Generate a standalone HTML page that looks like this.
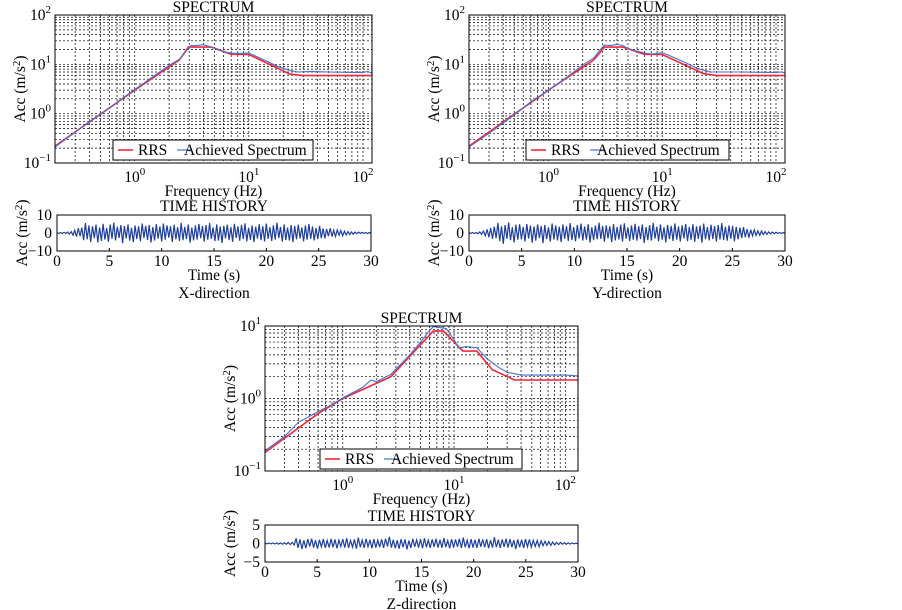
<!DOCTYPE html>
<html><head><meta charset="utf-8"><style>
body{margin:0;background:#fff}
svg{display:block;font-family:"Liberation Serif",serif}
</style></head><body>
<svg id="fig" width="902" height="610" viewBox="0 0 902 610"></svg>
<script>
// ---- data ----
const xRrsF=[0.2,1,2.46,2.95,4.7,7,10,23,30,120];
const xRrsA=[0.22,3.0,12.3,22.4,22.4,16,15.8,6.3,5.9,5.9];
const xAchF=[0.2,0.3,0.5,0.7,1,1.5,2,2.5,2.8,3.1,3.5,4,4.5,5,6,7,8,9,10,12,15,18,20,23,27,35,50,70,100,110,120];
const xAchA=[0.21,0.42,0.98,1.7,3.1,6,9.5,13,18,24,24,25,23,21,18,17,16.5,16.8,17,14,11,9,8.3,7.5,7,7.2,7,6.9,6.8,7.2,6.6];
const yRrsF=[0.2,1,2.5,3.1,4.5,7,10,23,30,120];
const yRrsA=[0.22,3.0,12.3,22.4,22.4,16,15.8,6.5,5.9,5.9];
const yAchF=[0.2,0.3,0.5,0.7,1,1.5,2,2.5,2.8,3.1,3.5,4,4.5,5,6,7,8,9,10,12,15,18,20,23,27,35,50,70,100,110,120];
const yAchA=[0.21,0.4,0.95,1.75,3.0,5.8,9.6,13.5,19,24.5,24,25.5,24,21,18.5,17,16.2,16.6,17.2,14.5,11.5,9.5,8.4,7.6,7,7,7,6.9,6.8,7,6.7];
const zRrsF=[0.2,0.6,1,2.7,6.5,8,12,16,22,35,130];
const zRrsA=[0.18,0.62,1.0,2.0,8.5,8.5,4.5,4.5,2.5,1.8,1.8];
const zAchF=[0.2,0.3,0.4,0.6,0.8,1,1.5,1.8,2,2.7,4,5,6,6.5,7.5,8.5,10,11,13,16,20,25,30,40,60,100,130];
const zAchA=[0.19,0.3,0.47,0.66,0.82,1.02,1.42,1.8,1.7,2.15,4,6,8.6,9.8,9.5,9.2,6.5,5,5.2,5,3.5,2.7,2.3,2.1,2.1,2.1,2.05];
const xAcc=[0.2,-0.3,0.3,-0.2,0.4,-0.3,0.5,-0.6,0.8,-1.2,1.5,-2,2.6,-1.8,3,-4,5.5,-3.5,4.2,-5,3.8,-2.9,4.6,-5.2,3.1,-4.4,5.1,-3.6,2.8,-4.9,4.7,-3.2,5.8,-4.1,3.5,-2.7,4.4,-5.6,3.9,-3,4.8,-4.3,2.9,-5.1,4.1,-3.4,3.7,-4.6,5.3,-2.8,4,-3.9,4.5,-5.3,3.3,-4.2,4.9,-3.1,3.6,-4.8,5.2,-3.7,4.3,-2.6,3.8,-5,4.6,-3.5,3.2,-4.4,5.6,-4,3.4,-3.3,4.7,-5.4,3,-4.1,4.2,-3.6,5,-2.9,3.9,-4.7,4.4,-3.8,5.5,-3.2,3.1,-4.5,4.8,-4.2,3.6,-5.5,4,-3,4.6,-3.9,3.3,-4.9,5.1,-2.7,3.7,-4.3,4.5,-3.4,5.4,-4.6,2.9,-3.8,4.1,-5,3.5,-3.1,4.9,-4,3.8,-4.7,5.2,-3.3,3.2,-4.4,4.3,-3.6,5.7,-2.8,3.4,-4.8,4.7,-3.9,3,-4.2,4.4,-5.1,3.9,-3.5,4.6,-3,3.1,-4.6,4.2,-3.7,5,-3.2,3.6,-4.1,2.8,-3.4,4,-2.9,2.5,-3,2.2,-1.8,2.6,-2,1.5,-1.9,1.7,-1.2,1.4,-1.6,1,-1.1,0.8,-0.9,0.6,-0.7,0.5,-0.4,0.5,-0.3,0.4,-0.2,0.3,-0.3,0.2,-0.2];
const yAcc=[0.2,-0.2,0.3,-0.3,0.3,-0.4,0.6,-0.8,1.1,-1.5,2,-2.4,2.8,-3.2,3.5,-2.9,5.6,-4.5,3.7,-6,4.4,-3.3,5.9,-4,3.2,-5.2,4.6,-3.8,4.9,-3.5,3.4,-4.7,5,-3.1,4.1,-5.4,3.6,-4.3,4.8,-2.9,3.9,-5.6,4.5,-3.4,3.1,-4.8,5.3,-3.6,4.2,-4.1,3.5,-5,4.7,-3.2,3.8,-4.4,5.5,-3.9,3.3,-4.6,4.4,-3.1,5.2,-4.2,3.6,-3.7,4.9,-5.3,3.2,-4,4.1,-3.5,5.7,-3.3,3.9,-4.9,4.3,-3,3.7,-5.1,5,-4.1,3.4,-3.6,4.6,-4.7,5.4,-3.2,3.1,-4.5,4.2,-3.8,5.1,-4.3,3.8,-3.4,4.7,-5.5,3.3,-3.9,4.4,-4.2,5.6,-3.1,3.5,-4.6,4.8,-3.7,3.2,-5.2,4.5,-3.3,4,-4.4,5.3,-3.6,3.6,-4.8,4.3,-3,5,-4.5,3.4,-3.8,4.9,-4.9,3.7,-3.2,4.1,-5.4,5.2,-3.5,3.3,-4.1,4.6,-3.4,3.8,-4.7,4.4,-3.6,5.5,-3.9,3.5,-4.3,4.2,-3.2,3.9,-4.6,3.4,-3.5,3,-2.8,3.3,-2.4,2.2,-2.6,1.9,-1.6,1.8,-1.4,1.2,-1.3,1.1,-0.9,0.8,-0.7,0.6,-0.5,0.5,-0.4,0.4,-0.3,0.3,-0.3,0.2,-0.2];
const zAcc=[0.1,-0.1,0.1,-0.1,0.15,-0.1,0.15,-0.15,0.2,-0.2,0.2,-0.2,0.3,-0.3,0.3,-0.4,1.4,-1.2,1.1,-1.5,0.9,-1.3,1.2,-0.8,1.3,-1.1,0.9,-1.4,1,-0.9,1.2,-1.2,0.8,-1.1,1.3,-1,1.1,-1.3,0.9,-0.8,1.2,-1.1,1.4,-1.2,0.8,-1,1.1,-1.4,1.6,-1,0.9,-1.2,1.3,-0.9,1,-1.3,1.2,-1.1,0.9,-1,1.1,-1.2,1.3,-0.8,1.8,-1.1,1,-1.3,0.9,-1.4,1.2,-1,1.1,-1.6,0.8,-1.2,1.3,-0.9,1,-1.1,1.2,-1.3,1.4,-1,0.9,-1.2,1.1,-0.9,1.3,-1.1,1,-1.2,1.5,-1,0.8,-1.3,1.2,-1.1,1.1,-0.9,1.3,-1.2,1.6,-1,0.9,-1.3,1.2,-1.1,1,-1.2,1.3,-0.9,1.1,-1,1.2,-1.3,0.9,-1.1,1.7,-1,1,-1.2,1.1,-0.9,1.3,-1.1,1.2,-1,0.9,-1.5,1.1,-1,1,-1.2,1.2,-0.9,1.1,-1,0.9,-0.8,0.8,-0.9,0.7,-0.6,0.6,-0.5,0.5,-0.5,0.4,-0.4,0.3,-0.3,0.3,-0.2,0.2,-0.2,0.2,-0.15,0.15,-0.1,0.1,-0.1];
const timeTicks=[0,5,10,15,20,25,30];

const NS="http://www.w3.org/2000/svg";
const svg=document.getElementById('fig');
const FS=15.5;
function mk(tag,attrs,parent){const e=document.createElementNS(NS,tag);for(const k in attrs)e.setAttribute(k,attrs[k]);(parent||svg).appendChild(e);return e;}
function txt(x,y,s,anchor,parent,size){const t=mk('text',{x:x,y:y,'text-anchor':anchor||'middle','font-size':size||FS,fill:'#000'},parent);t.textContent=s;return t;}
function pow10(x,y,exp,parent,anchor){const t=mk('text',{x:x,y:y,'text-anchor':anchor||'middle','font-size':FS,fill:'#000'},parent);t.appendChild(document.createTextNode('10'));const s=mk('tspan',{dy:-7,'font-size':11},t);s.textContent=exp;return t;}
function ylabel(x,cy,parent){const t=mk('text',{x:0,y:0,'text-anchor':'middle','font-size':FS,transform:`translate(${x},${cy}) rotate(-90)`},parent);t.appendChild(document.createTextNode('Acc (m/s'));const s=mk('tspan',{dy:-5,'font-size':11},t);s.textContent='2';const s2=mk('tspan',{dy:5},t);s2.textContent=')';return t;}

function spectrum(name,B,xmin,xmax,ydec0,ydec1,rF,rA,aF,aA,leg){
  const g=mk('g',{});
  
  
  const lx0=Math.log10(xmin),lx1=Math.log10(xmax);
  const X=f=>B.x+(Math.log10(f)-lx0)/(lx1-lx0)*B.w;
  const Y=a=>B.y+B.h-(Math.log10(a)-ydec0)/(ydec1-ydec0)*B.h;
  const grid=mk('g',{stroke:'#000','stroke-width':0.7,'stroke-dasharray':'2,2'},g);
  
  
  for(let d=-1;d<=2;d++)for(let m=1;m<10;m++){const f=m*Math.pow(10,d);if(f>xmin&&f<xmax){const x=X(f);mk('line',{x1:x,x2:x,y1:B.y,y2:B.y+B.h},grid);}}
  for(let d=ydec0;d<ydec1;d++)for(let m=1;m<10;m++){const a=m*Math.pow(10,d);if(a>Math.pow(10,ydec0)){const y=Y(a);mk('line',{x1:B.x,x2:B.x+B.w,y1:y,y2:y},grid);}}
  const pts=(F,A)=>F.map((f,i)=>X(f).toFixed(1)+','+Y(A[i]).toFixed(1)).join(' ');
  const r=mk('polyline',{points:pts(rF,rA),fill:'none',stroke:'#f0283c','stroke-width':1.6},g);
  
  
  const a=mk('polyline',{points:pts(aF,aA),fill:'none',stroke:'#4a6fd0','stroke-width':1.1},g);
  
  
  mk('rect',{x:B.x,y:B.y,width:B.w,height:B.h,fill:'none',stroke:'#000','stroke-width':1},g);
  for(let d=ydec0;d<=ydec1;d++){pow10(B.x-4,Y(Math.pow(10,d))+5,d<0?'−1':String(d),g,'end');}
  for(let d=0;d<=2;d++){pow10(X(Math.pow(10,d)),B.y+B.h+19,String(d),g);}
  txt(B.x+B.w/2,B.y+B.h+33,'Frequency (Hz)','middle',g);
  txt(B.x+B.w/2,B.y-3,'SPECTRUM','middle',g);
  ylabel(B.x-30,B.y+B.h/2,g);
  const lg=mk('g',{},g);
  
  
  mk('rect',{x:leg.x,y:leg.y,width:leg.w,height:20,fill:'#fff',stroke:'#000','stroke-width':1},lg);
  mk('line',{x1:leg.x+5,x2:leg.x+20,y1:leg.y+10,y2:leg.y+10,stroke:'#f0283c','stroke-width':1.6},lg);
  txt(leg.x+25,leg.y+15,'RRS','start',lg);
  mk('line',{x1:leg.x+leg.b,x2:leg.x+leg.b+15,y1:leg.y+10,y2:leg.y+10,stroke:'#4a6fd0','stroke-width':1.2},lg);
  txt(leg.x+leg.b+7,leg.y+15,'Achieved Spectrum','start',lg);
}
function history(name,B,ymax,vals,dir){
  const g=mk('g',{});
  
  
  const X=t=>B.x+t/30*B.w;
  const Y=v=>B.y+B.h/2-v/ymax*(B.h/2);
  const p=vals.map((v,i)=>X(i/(vals.length-1)*30).toFixed(1)+','+Y(v).toFixed(1)).join(' ');
  const l=mk('polyline',{points:p,fill:'none',stroke:'#1f3f9e','stroke-width':1.2},g);
  
  
  mk('rect',{x:B.x,y:B.y,width:B.w,height:B.h,fill:'none',stroke:'#000','stroke-width':1},g);
  timeTicks.forEach(t=>{const x=X(t);mk('line',{x1:x,x2:x,y1:B.y+B.h,y2:B.y+B.h-3,stroke:'#000'},g);txt(x,B.y+B.h+15,String(t),'middle',g);});
  [ymax,0,-ymax].forEach(v=>{txt(B.x-5,Y(v)+5,v<0?'−'+(-v):String(v),'end',g);});
  txt(B.x+B.w/2,B.y-4,'TIME HISTORY','middle',g);
  txt(B.x+B.w/2,B.y+B.h+29,'Time (s)','middle',g);
  txt(B.x+B.w/2,B.y+B.h+47,dir,'middle',g);
  ylabel(B.x-30,B.y+B.h/2,g);
}
spectrum('x',{x:55,y:15,w:317,h:148},0.2,120,-1,2,xRrsF,xRrsA,xAchF,xAchA,{x:113,y:140,w:200,b:64});
history('x',{x:57,y:215,w:314,h:36},10,xAcc,'X-direction');
spectrum('y',{x:469,y:15,w:316,h:148},0.2,120,-1,2,yRrsF,yRrsA,yAchF,yAchA,{x:526,y:140,w:203,b:64});
history('y',{x:469,y:215,w:316,h:36},10,yAcc,'Y-direction');
spectrum('z',{x:265,y:326,w:313,h:145},0.2,130,-1,1,zRrsF,zRrsA,zAchF,zAchA,{x:320,y:449,w:202,b:64});
history('z',{x:265,y:525,w:313,h:37},5,zAcc,'Z-direction');
</script>
</body></html>
